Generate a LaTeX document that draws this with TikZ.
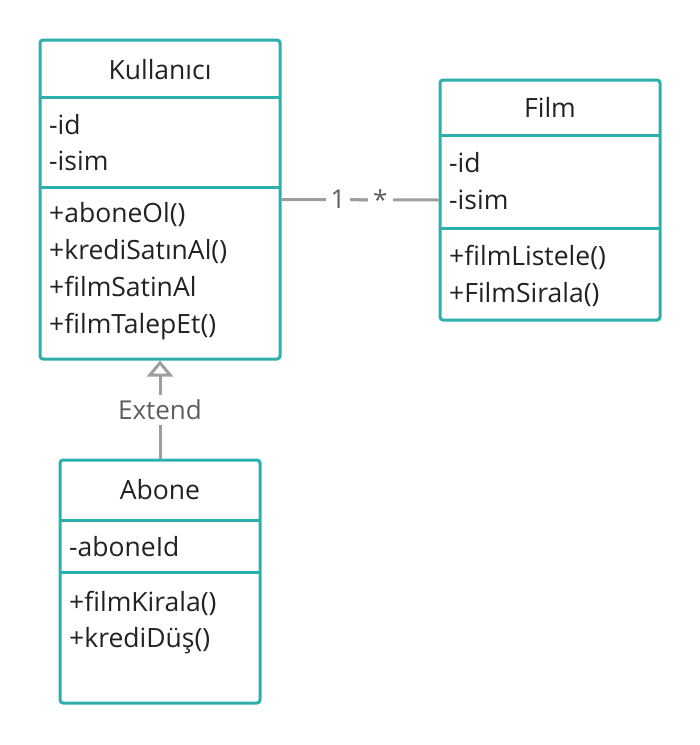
\documentclass[tikz,border=0pt]{standalone}
\usepackage{fontspec}
\setmainfont{Open Sans}
\usetikzlibrary{arrows.meta,positioning,calc}

\definecolor{umlteal}{HTML}{2BB0AD}
\definecolor{umlgray}{HTML}{9E9E9E}
\definecolor{umltext}{HTML}{222222}
\definecolor{umllabel}{HTML}{5E5E5E}

\tikzset{
  classbox/.style={draw=umlteal, line width=3pt, rounded corners=3pt, fill=white, inner sep=0pt},
  divider/.style={draw=umlteal, line width=3pt},
  classname/.style={anchor=base, inner sep=0pt, text=umltext, font=\fontsize{26.5}{30}\selectfont},
  member/.style={anchor=base west, inner sep=0pt, text=umltext, font=\fontsize{26.5}{30}\selectfont},
  relline/.style={draw=umlgray, line width=3pt},
  rellabel/.style={fill=white, text=umllabel, inner sep=5pt, font=\fontsize{26}{30}\selectfont}
}

\begin{document}
\begin{tikzpicture}[x=1pt,y=-1pt]
    \useasboundingbox (0,0) rectangle (700,745);

    % Kullanici
    \node[classbox, minimum width=240pt, minimum height=319pt] (kul) at (160,199.5) {};
    \draw[divider] (40,97) -- (280,97);
    \draw[divider] (40,187) -- (280,187);
    \node[classname] (kulname) at (160,79) {Kullanıcı};
    \node[member] (kulid) at (49,134) {-id};
    \node[member] (kulisim) at (49,170) {-isim};
    \node[member] (kulabone) at (49,222) {+aboneOl()};
    \node[member] (kulkredi) at (49,259) {+krediSatınAl()};
    \node[member] (kulsatin) at (49,296) {+filmSatinAl};
    \node[member] (kultalep) at (49,333) {+filmTalepEt()};

    % Film
    \node[classbox, minimum width=220pt, minimum height=240pt] (film) at (550,200) {};
    \draw[divider] (440,135) -- (660,135);
    \draw[divider] (440,228) -- (660,228);
    \node[classname] (filmname) at (550,117) {Film};
    \node[member] (filmid) at (449,172) {-id};
    \node[member] (filmisim) at (449,209) {-isim};
    \node[member] (filmliste) at (449,265) {+filmListele()};
    \node[member] (filmsira) at (449,302) {+FilmSirala()};

    % Abone
    \node[classbox, minimum width=200pt, minimum height=243pt] (abone) at (160,581.5) {};
    \draw[divider] (60,520) -- (260,520);
    \draw[divider] (60,572) -- (260,572);
    \node[classname] (abonename) at (160,499) {Abone};
    \node[member] (aboneid) at (69,556) {-aboneId};
    \node[member] (abonekira) at (69,611) {+filmKirala()};
    \node[member] (abonedus) at (69,647) {+krediDüş()};

    % 1 - * association
    \draw[relline] (kul.east) -- (film.west)
        node[rellabel, pos=0.36] (one) {1}
        node[rellabel, pos=0.63] (many) {*};
    \draw[relline, shorten <=-1pt] (one.east) -- (many.west);

    % inheritance
    \draw[relline, -{Triangle[open, length=16pt, width=26pt, line width=3pt]}] (abone.north) -- (kul.south)
        node[rellabel, pos=0.5] (extend) {Extend};
\end{tikzpicture}
\end{document}
